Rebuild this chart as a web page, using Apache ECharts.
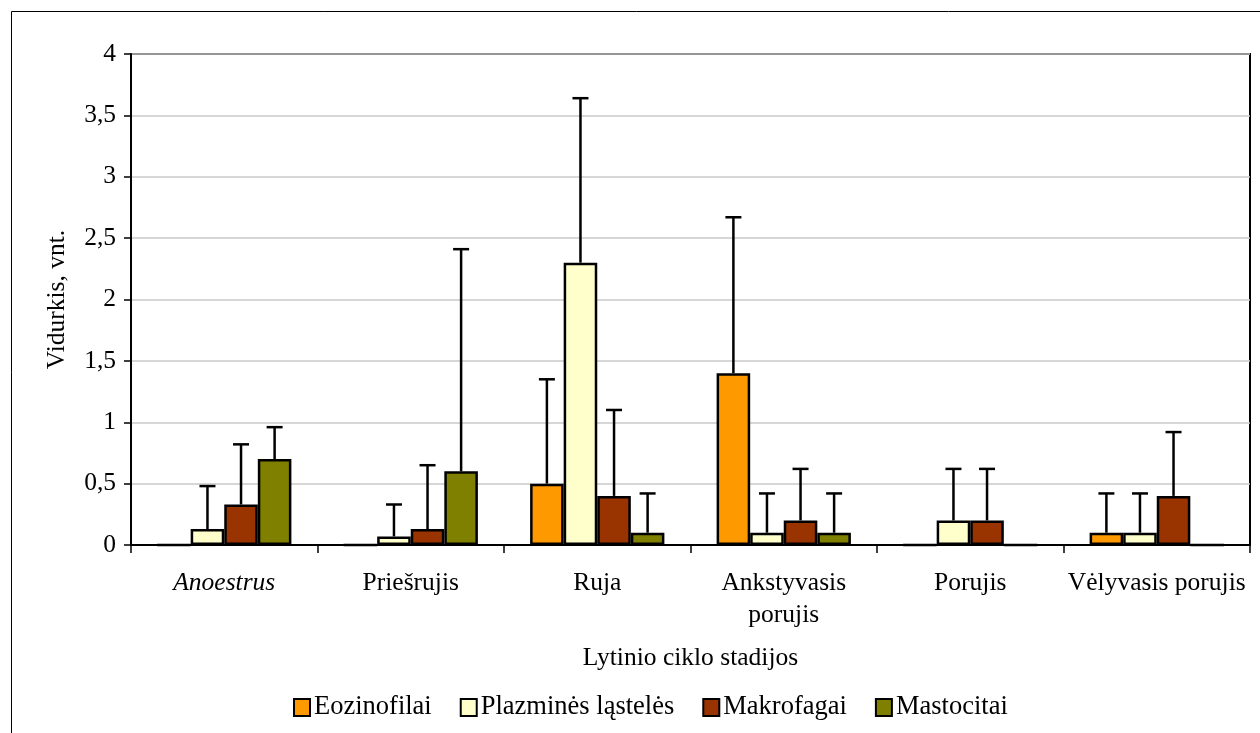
<!DOCTYPE html>
<html>
<head>
<meta charset="utf-8">
<script src="https://cdn.jsdelivr.net/npm/echarts@6/dist/echarts.min.js"></script>
<style>
  html, body { margin: 0; padding: 0; background: #fff; }
  #main { width: 1260px; height: 733px; }
</style>
</head>
<body>
<div id="main"></div>
<script>
    var stages = ['Anoestrus', 'Priešrujis', 'Ruja', 'Ankstyvasis\nporujis', 'Porujis', 'Vėlyvasis porujis'];
    var seriesNames = ['Eozinofilai', 'Plazminės ląstelės', 'Makrofagai', 'Mastocitai'];
    // vidurkiai
    var eozinofilai = [0, 0, 0.5, 1.4, 0, 0.1];
    var plazmines = [0.13, 0.07, 2.3, 0.1, 0.2, 0.1];
    var makrofagai = [0.33, 0.13, 0.4, 0.2, 0.2, 0.4];
    var mastocitai = [0.7, 0.6, 0.1, 0.1, 0, 0];
    // paklaidu virsunes (vidurkis + SD)
    var eozinofilaiTop = [0, 0, 1.35, 2.67, 0, 0.42];
    var plazminesTop = [0.48, 0.33, 3.64, 0.42, 0.62, 0.42];
    var makrofagaiTop = [0.82, 0.65, 1.1, 0.62, 0.62, 0.92];
    var mastocitaiTop = [0.96, 2.41, 0.42, 0.42, 0, 0];

    var colors = ['#FF9900', '#FFFFCC', '#993300', '#808000'];
    var font = '"Liberation Serif", "DejaVu Serif", serif';
    var gapRatio = 0.28;
    var fs = 25.5;

    var means = [eozinofilai, plazmines, makrofagai, mastocitai];
    var tops = [eozinofilaiTop, plazminesTop, makrofagaiTop, mastocitaiTop];

    /*paklaidu linijos*/
    function errRender(k) {
        return function (params, api) {
            var i = api.value(0), mean = api.value(1), top = api.value(2);
            if (top <= mean) return;
            var p0 = api.coord([i, mean]);
            var p1 = api.coord([i, top]);
            var cw = api.size([1, 0])[0];
            var bw = cw * (1 - gapRatio) / 4;
            var x = p0[0] + (k - 1.5) * bw;
            var st = {stroke: '#000', lineWidth: 2.5};
            return {
                type: 'group',
                children: [
                    {type: 'line', shape: {x1: x, y1: p0[1], x2: x, y2: p1[1]}, style: st},
                    {type: 'line', shape: {x1: x - 8, y1: p1[1], x2: x + 8, y2: p1[1]}, style: st}
                ]
            };
        };
    }

    var series = [];
    seriesNames.forEach(function (name, k) {
        series.push({
            name: name,
            type: 'bar',
            barGap: '0%',
            barCategoryGap: (gapRatio * 100) + '%',
            data: means[k],
            itemStyle: {color: colors[k], borderColor: '#000', borderWidth: 2.5},
            emphasis: {disabled: true}
        });
    });
    seriesNames.forEach(function (name, k) {
        series.push({
            type: 'custom',
            name: 'err' + k,
            renderItem: errRender(k),
            data: means[k].map(function (v, i) { return [i, v, tops[k][i]]; }),
            z: 3,
            silent: true
        });
    });

    var myChart = echarts.init(document.getElementById('main'));
    var option = {
        animation: false,
        backgroundColor: '#fff',
        textStyle: {fontFamily: font, color: '#000'},
        graphic: [{
            type: 'rect',
            shape: {x: 11.5, y: 11.5, width: 1270, height: 760},
            style: {fill: 'none', stroke: '#000', lineWidth: 1}
        }],
        grid: {left: 131, right: 10, top: 54, bottom: 188, show: true, borderColor: '#000', borderWidth: 2},
        legend: {
            data: seriesNames,
            bottom: 7,
            left: 288,
            itemWidth: 16,
            itemHeight: 17,
            itemGap: 28,
            icon: 'rect',
            textStyle: {fontFamily: font, fontSize: 26.5, color: '#000', padding: [0, 0, 0, -1]}
        },
        xAxis: {
            type: 'category',
            data: stages,
            name: 'Lytinio ciklo stadijos',
            nameLocation: 'middle',
            nameGap: 100,
            nameTextStyle: {fontFamily: font, fontSize: fs, color: '#000'},
            axisLine: {lineStyle: {color: '#000', width: 2}},
            axisTick: {show: true, length: 8, lineStyle: {color: '#000', width: 1.5}},
            axisLabel: {
                interval: 0,
                margin: 22,
                fontSize: fs,
                color: '#000',
                fontFamily: font,
                lineHeight: 32,
                formatter: function (v) {
                    if (v === 'Anoestrus') return '{i|' + v + '}';
                    return v;
                },
                rich: {i: {fontStyle: 'italic', fontSize: fs, fontFamily: font, color: '#000', lineHeight: 32}}
            }
        },
        yAxis: {
            type: 'value',
            min: 0,
            max: 4,
            interval: 0.5,
            name: 'Vidurkis, vnt.',
            nameLocation: 'middle',
            nameRotate: 90,
            nameGap: 61,
            nameTextStyle: {fontFamily: font, fontSize: fs, color: '#000'},
            axisLine: {show: true, lineStyle: {color: '#000', width: 2}},
            axisTick: {show: true, length: 7, lineStyle: {color: '#000', width: 1.5}},
            splitLine: {lineStyle: {color: '#c8c8c8', width: 1.5}},
            axisLabel: {
                margin: 15,
                fontSize: fs,
                color: '#000',
                fontFamily: font,
                formatter: function (v) { return String(v).replace('.', ','); }
            }
        },
        series: series
    };
    myChart.setOption(option);
</script>
</body>
</html>
